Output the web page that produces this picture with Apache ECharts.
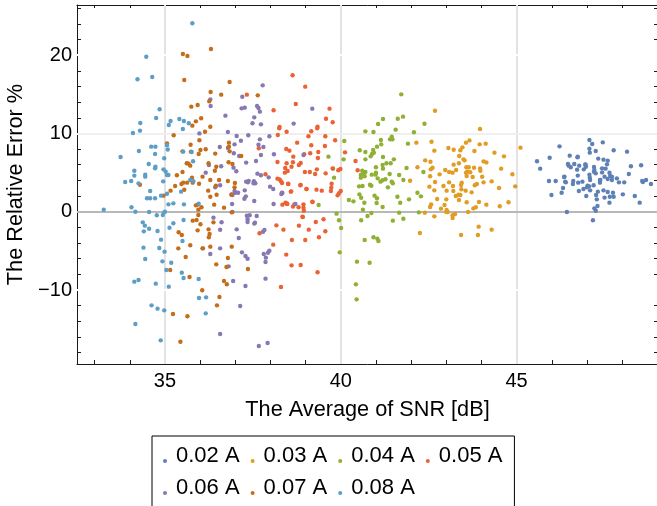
<!DOCTYPE html>
<html>
<head>
<meta charset="utf-8">
<script src="https://cdn.jsdelivr.net/npm/echarts@6/dist/echarts.min.js"></script>
<style>
  html, body { margin: 0; padding: 0; background: #ffffff; }
  #chart { width: 657px; height: 506px; }
</style>
</head>
<body>
<div id="chart"></div>
<script>
// Relative error (%) versus average SNR (dB), one point cloud per current level.
const currents = ['0.02 A', '0.03 A', '0.04 A', '0.05 A', '0.06 A', '0.07 A', '0.08 A'];

const pts002 = [[47.07,9.16],[47.45,8.86],[47.15,8.65],[46.22,8.35],[47.07,8.05],[47.25,7.76],[47.76,7.84],[48.14,7.67],[47.08,7.54],[46.51,7.16],[46.73,6.95],[45.94,6.90],[47.32,6.78],[47.47,6.65],[47.59,6.52],[45.58,6.44],[46.46,6.10],[46.64,6.10],[46.95,6.01],[46.48,5.88],[46.54,5.67],[46.78,5.88],[46.97,5.75],[47.20,5.71],[47.57,6.05],[48.25,5.80],[48.54,5.93],[45.67,5.50],[46.72,5.37],[46.91,5.41],[47.21,5.33],[47.43,5.54],[46.36,4.48],[46.74,4.61],[47.07,4.73],[47.08,4.35],[47.25,4.90],[47.50,4.48],[47.66,4.56],[47.71,4.48],[47.85,4.26],[48.19,4.82],[45.92,3.92],[46.11,3.92],[46.38,3.84],[46.60,3.54],[46.75,3.71],[46.87,3.84],[47.09,4.05],[47.37,4.05],[47.37,3.71],[47.59,4.18],[47.71,4.05],[47.91,3.75],[48.06,3.75],[48.57,3.92],[48.68,4.05],[48.82,3.54],[46.32,3.03],[46.77,2.65],[46.90,2.90],[47.00,3.12],[47.06,3.24],[47.19,3.37],[47.31,2.56],[47.47,2.73],[47.59,2.52],[47.74,2.43],[47.65,1.92],[47.76,1.92],[48.02,2.22],[48.36,2.01],[45.99,2.14],[46.28,2.43],[46.98,2.01],[47.26,2.14],[47.28,1.58],[47.50,1.80],[47.64,1.16],[48.50,1.16],[47.30,0.73],[47.21,0.43],[47.25,0.13],[46.43,-0.04],[47.17,-1.10],[48.59,3.79],[47.53,5.50],[47.20,5.11],[47.02,3.32],[46.74,7.03],[46.61,3.92],[46.35,4.43],[46.40,3.75],[47.43,5.02],[47.38,4.05],[47.64,4.98],[46.96,6.05],[47.09,2.73]];

const pts003 = [[42.68,12.90],[43.96,10.56],[42.15,8.82],[42.58,8.94],[43.66,9.11],[43.56,8.82],[43.95,8.60],[44.12,8.69],[43.46,8.22],[43.06,8.14],[43.21,7.92],[43.40,7.84],[42.66,7.80],[43.80,7.75],[44.37,7.54],[43.37,7.11],[44.64,7.07],[42.40,6.56],[42.55,6.39],[43.49,6.69],[43.52,6.56],[44.06,6.43],[44.14,6.30],[43.21,6.01],[43.36,6.18],[42.18,5.67],[42.56,5.41],[42.61,5.62],[42.97,5.33],[43.08,5.07],[43.18,4.99],[43.28,5.33],[43.57,5.67],[43.64,5.67],[43.79,5.62],[43.96,5.54],[43.97,5.24],[44.56,5.50],[42.81,4.77],[43.56,4.99],[43.60,5.11],[43.68,5.03],[43.58,4.56],[42.54,4.52],[43.75,4.43],[44.02,4.47],[41.97,3.96],[42.68,3.79],[43.08,3.75],[43.44,3.71],[43.87,3.54],[44.29,3.88],[42.52,3.20],[42.92,3.28],[43.19,3.28],[43.42,3.41],[43.81,3.37],[44.06,3.75],[42.66,2.73],[43.01,2.69],[43.20,2.64],[43.43,2.86],[43.55,2.69],[43.72,2.47],[44.50,3.03],[43.27,2.00],[43.35,2.17],[43.40,2.13],[42.74,1.62],[43.00,1.58],[43.36,1.49],[43.58,1.20],[43.93,1.24],[44.14,0.90],[44.52,0.69],[44.77,1.20],[42.57,0.94],[42.54,0.60],[42.95,0.86],[42.85,0.39],[43.01,0.22],[43.04,-0.04],[43.00,-0.04],[43.25,-0.29],[43.18,-0.46],[43.18,-0.80],[43.77,0.43],[43.84,0.56],[43.62,-0.04],[42.39,-0.12],[42.66,-0.59],[43.92,-1.91],[42.25,-2.72],[43.42,-2.98],[43.90,-2.98],[44.29,-2.29],[45.11,8.18],[44.96,3.24],[44.88,4.78]];

const pts004 = [[41.72,14.99],[41.20,11.84],[41.62,11.88],[41.77,12.14],[41.06,11.20],[42.38,11.24],[40.70,10.26],[40.93,10.18],[41.56,10.48],[42.08,10.14],[40.10,9.03],[41.45,9.58],[41.40,9.24],[41.47,9.24],[41.14,9.16],[41.91,8.69],[41.15,8.60],[41.03,8.31],[40.92,7.88],[40.54,7.84],[40.70,7.62],[40.89,7.37],[40.94,7.54],[41.20,6.99],[41.51,6.69],[40.08,6.69],[40.70,6.69],[40.85,7.07],[41.30,6.18],[41.42,6.18],[41.19,5.97],[41.20,5.50],[41.00,5.67],[39.78,5.50],[40.61,5.24],[40.70,5.07],[40.65,4.90],[41.00,4.99],[40.99,4.73],[41.39,4.82],[41.87,5.58],[42.35,5.07],[40.57,4.69],[40.57,4.35],[40.68,4.52],[40.88,4.73],[39.81,4.35],[41.66,4.69],[41.05,4.26],[41.13,3.84],[41.19,4.01],[41.27,4.14],[41.45,3.84],[41.48,3.63],[41.78,4.05],[40.62,3.28],[40.52,3.24],[40.83,3.45],[40.87,3.32],[41.34,3.11],[40.96,2.05],[40.53,2.22],[40.58,1.79],[41.03,1.71],[41.61,1.92],[42.18,2.43],[42.28,1.96],[41.94,1.58],[40.23,1.49],[40.36,1.32],[40.67,1.15],[41.02,1.11],[41.69,1.15],[41.19,0.60],[40.63,0.26],[40.87,-0.17],[40.76,-0.55],[41.66,-0.12],[42.22,-0.08],[39.88,-0.25],[41.78,-0.89],[39.95,-1.10],[40.58,-1.10],[41.48,-1.14],[40.01,-2.08],[40.68,-3.61],[40.93,-3.27],[41.04,-3.44],[41.07,-3.74],[39.97,-5.19],[40.46,-6.38],[40.82,-6.51],[40.43,-9.28],[40.45,-11.19],[39.65,7.03],[39.37,0.86]];

const pts005 = [[38.63,17.42],[38.99,15.97],[38.72,13.76],[37.33,14.95],[38.09,12.95],[39.68,13.16],[39.58,11.88],[38.26,10.82],[38.25,10.65],[38.46,10.22],[39.16,10.27],[39.34,10.86],[39.33,10.65],[39.56,9.63],[39.08,9.63],[38.21,9.80],[38.76,8.82],[37.67,8.10],[38.45,8.01],[38.54,7.80],[39.16,8.48],[39.36,7.63],[39.13,7.46],[38.96,7.33],[38.65,7.03],[39.35,6.86],[38.46,6.18],[38.64,6.31],[38.20,6.35],[38.86,6.22],[38.81,5.97],[38.60,5.75],[38.42,5.58],[38.49,5.20],[38.41,4.99],[38.98,5.07],[39.12,5.07],[39.32,5.41],[39.57,4.90],[39.27,4.82],[37.86,4.78],[38.20,4.22],[38.26,4.13],[38.33,3.66],[38.50,3.58],[38.86,3.41],[39.02,2.90],[39.31,2.82],[39.46,2.69],[38.59,2.60],[38.33,2.43],[38.43,1.16],[38.48,1.03],[38.68,0.94],[38.64,0.65],[38.94,0.94],[38.94,0.52],[39.19,1.28],[38.34,0.90],[38.95,0.13],[38.91,-0.63],[38.81,-1.78],[39.29,-1.31],[39.51,-0.97],[39.09,-2.29],[39.56,-2.50],[39.38,-3.27],[38.37,-2.29],[38.17,-1.74],[37.69,-2.76],[38.61,-3.61],[38.99,-3.61],[38.08,-4.21],[38.45,-5.48],[38.60,-6.85],[38.86,-6.81],[38.30,-9.61],[39.34,-7.74],[39.77,11.42],[39.84,9.12],[40.12,7.58],[39.99,5.46],[39.93,5.29],[40.42,6.48],[40.48,5.29],[39.74,3.58],[39.73,3.07],[39.72,2.64],[39.91,2.09],[40.00,2.64],[39.95,2.35],[39.55,8.39],[39.77,5.54],[38.47,0.98],[38.80,0.56],[39.20,1.24],[38.92,-0.68],[39.03,2.90],[38.85,3.37],[38.58,2.56],[38.51,3.54],[38.30,3.88]];

const pts006 = [[37.78,16.14],[37.20,14.69],[36.29,14.35],[36.30,13.50],[37.18,13.20],[37.27,13.29],[37.62,13.50],[37.66,13.25],[37.70,12.78],[39.19,13.16],[37.54,12.05],[36.72,12.27],[37.49,11.29],[37.73,11.16],[38.66,11.25],[35.98,10.00],[36.79,10.18],[37.37,9.76],[37.70,9.24],[37.97,9.63],[37.04,9.67],[37.16,9.07],[37.66,8.56],[36.98,8.60],[36.79,8.14],[36.56,8.27],[37.80,8.27],[36.96,7.46],[37.11,7.12],[37.73,7.24],[38.10,7.33],[37.31,6.27],[37.59,6.48],[36.25,5.97],[36.60,5.80],[36.95,5.63],[37.03,5.16],[36.16,4.99],[37.63,4.86],[37.73,4.65],[37.95,4.39],[37.31,3.84],[37.36,3.75],[37.52,3.63],[37.57,3.63],[36.57,3.37],[36.43,3.12],[37.99,3.20],[38.08,2.90],[36.98,2.65],[37.00,2.43],[37.08,2.43],[37.27,2.73],[36.92,2.13],[36.90,2.22],[37.30,1.96],[38.34,2.39],[38.31,2.26],[37.26,1.66],[37.54,1.37],[36.91,0.99],[38.09,0.99],[36.92,-0.04],[37.33,-0.51],[37.35,-0.97],[37.35,-1.31],[37.41,-0.46],[37.61,-0.55],[36.61,-1.35],[37.04,-2.25],[37.56,-1.40],[37.83,-2.33],[37.79,-2.55],[37.10,-3.36],[36.08,-4.68],[36.57,-4.68],[36.29,-5.41],[37.19,-5.19],[37.29,-5.66],[37.97,-4.98],[37.93,-5.24],[37.81,-5.41],[37.86,-6.42],[37.29,-9.49],[37.86,-8.55],[36.94,-8.85],[37.35,-6.00],[37.14,-12.04],[36.57,-15.62],[37.67,-17.15],[37.92,-16.77],[36.81,-6.98],[36.38,-0.76],[36.57,-2.30],[37.54,-1.52],[37.87,-5.87],[37.38,3.94],[37.53,3.90],[38.94,7.24],[38.71,0.98]];

const pts007 = [[35.51,20.14],[35.64,19.89],[36.31,20.78],[35.55,16.82],[36.84,16.57],[36.30,15.29],[36.60,14.95],[36.26,14.10],[37.64,14.86],[35.93,13.63],[35.75,13.42],[36.03,11.93],[35.88,11.54],[35.78,10.99],[36.29,10.86],[36.14,10.22],[35.25,9.76],[35.06,8.73],[35.73,8.56],[36.82,8.82],[36.82,8.31],[36.84,7.71],[36.43,7.42],[36.01,7.88],[35.74,7.67],[35.50,7.71],[35.62,6.18],[35.67,6.14],[35.72,5.88],[35.96,7.37],[36.16,7.97],[36.24,6.18],[36.46,5.75],[36.81,6.31],[37.17,7.12],[35.34,4.65],[35.50,5.07],[35.63,3.71],[35.77,4.35],[36.07,4.48],[36.29,4.05],[36.42,5.24],[36.54,4.05],[36.79,3.92],[35.52,3.71],[35.98,9.12],[36.92,6.10],[34.29,3.45],[35.29,3.28],[35.16,2.69],[34.96,2.05],[35.47,3.54],[35.55,2.81],[35.79,3.71],[35.97,3.58],[36.45,3.33],[36.23,2.69],[36.29,1.92],[36.47,2.17],[36.89,2.17],[36.98,3.11],[36.99,3.67],[35.88,0.81],[35.93,0.90],[35.95,0.26],[36.04,0.56],[36.40,0.90],[36.68,0.52],[36.90,-0.08],[35.95,-0.42],[35.79,-1.14],[35.90,-1.06],[36.01,-1.61],[36.38,-1.36],[36.24,-2.25],[35.93,-2.38],[35.39,-2.63],[35.48,-2.97],[36.27,-2.85],[36.25,-3.27],[35.72,-4.29],[35.38,-4.68],[36.07,-4.68],[36.29,-4.46],[36.90,-4.46],[35.59,-5.78],[36.79,-5.91],[36.46,-6.72],[36.75,-7.06],[37.36,-7.32],[35.15,-7.44],[35.70,-8.34],[36.68,-8.85],[36.76,-9.27],[36.06,-10.04],[36.55,-10.89],[36.48,-11.96],[35.23,-13.06],[35.64,-13.36],[35.44,-16.60]];

const pts008 = [[35.78,24.06],[34.47,19.80],[34.22,16.91],[34.64,17.21],[34.85,13.08],[34.75,11.97],[34.30,11.33],[34.29,10.35],[34.09,10.05],[35.11,11.08],[35.16,11.59],[35.41,11.84],[35.54,11.59],[35.68,11.29],[35.51,10.56],[34.61,8.31],[34.73,8.31],[34.26,7.76],[34.72,7.37],[33.74,6.99],[35.06,8.50],[35.08,7.95],[35.52,7.67],[35.76,7.63],[34.54,6.10],[34.73,5.75],[34.72,5.54],[34.98,6.82],[34.96,5.41],[35.02,5.12],[35.06,4.69],[35.10,4.69],[34.44,4.48],[34.44,4.73],[34.13,5.24],[34.13,4.61],[35.80,6.44],[35.72,4.05],[35.81,3.90],[33.87,3.79],[34.04,3.92],[34.25,3.62],[34.95,3.88],[34.58,2.64],[34.49,1.71],[34.58,1.71],[34.72,1.71],[34.89,2.05],[35.06,2.30],[35.46,2.56],[35.10,0.94],[35.24,1.07],[35.54,0.94],[35.96,1.03],[34.05,0.56],[33.26,0.26],[34.16,0.00],[34.55,-0.04],[34.98,-0.08],[35.00,0.00],[34.94,-0.42],[34.77,-0.46],[34.37,-1.36],[34.43,-1.78],[34.55,-2.17],[34.40,-2.51],[34.79,-2.46],[35.13,-2.04],[35.24,-1.48],[35.53,-1.06],[34.89,-3.57],[35.50,-3.74],[34.39,-4.59],[34.84,-4.63],[34.99,-5.10],[34.44,-6.04],[34.93,-6.34],[35.18,-6.51],[35.04,-7.44],[35.48,-7.78],[35.53,-8.47],[35.96,-8.59],[34.13,-8.93],[34.25,-8.72],[34.74,-9.19],[35.11,-9.57],[35.97,-11.02],[36.17,-10.94],[34.62,-11.96],[34.79,-12.38],[34.98,-12.60],[36.16,-12.98],[34.16,-14.34],[34.88,-16.43]];

const seriesPoints = [pts002, pts003, pts004, pts005, pts006, pts007, pts008];
const palette = ['#5e81b5', '#e19c24', '#8fb032', '#eb6235', '#8778b3', '#c56e1a', '#5d9ec7'];

// axis ranges, ticks and labels
const xRange = [32.5, 49.02];
const yRange = [-19.45, 26.4];
const xTickValues = [33, 34, 35, 36, 37, 38, 39, 40, 41, 42, 43, 44, 45, 46, 47, 48];
const xLabelValues = [35, 40, 45];
const yTickValues = [-18, -16, -14, -12, -10, -8, -6, -4, -2, 0, 2, 4, 6, 8, 10, 12, 14, 16, 18, 20, 22, 24, 26];
const yLabelValues = [-10, 0, 10, 20];
const xGridValues = [35, 40, 45];
const yGridLight = [10];
const yGridWhite = [20, -10];

const FONT = '"Liberation Sans", Arial, Helvetica, sans-serif';
const frame = { show: true, onZero: false, lineStyle: { color: '#1a1a1a', width: 1 } };

function frameAxis(extra) {
  return Object.assign({
    type: 'value',
    axisLine: frame,
    splitLine: { show: false },
    splitArea: { show: false }
  }, extra);
}

const legendFont = { fontSize: 22, color: '#000', fontFamily: FONT };
const legendRich = Object.assign({ lineHeight: 22, padding: [0, 11, 10, 0] }, legendFont);

const chart = echarts.init(document.getElementById('chart'), null, { renderer: 'canvas' });

const gridLines = []
  .concat(xGridValues.map(v => ({ xAxis: v, lineStyle: { color: '#e3e3e3', width: 2 } })))
  .concat(yGridLight.map(v => ({ yAxis: v, lineStyle: { color: '#efefef', width: 2 } })))
  .concat(yGridWhite.map(v => ({ yAxis: v, lineStyle: { color: '#ffffff', width: 2 } })))
  .concat([{ yAxis: 0, lineStyle: { color: '#b8b8b8', width: 2 } }]);

chart.setOption({
  animation: false,
  backgroundColor: '#ffffff',
  grid: { left: 77, top: 5, width: 581, height: 359, containLabel: false, outerBoundsMode: 'none' },
  xAxis: [
    frameAxis({
      position: 'bottom', min: xRange[0], max: xRange[1],
      axisTick: { show: true, inside: true, length: 4, customValues: xTickValues, lineStyle: { color: '#1a1a1a' } },
      axisLabel: { show: true, customValues: xLabelValues, fontSize: 20, color: '#000', margin: 7, fontFamily: FONT },
      name: 'The Average of SNR [dB]', nameLocation: 'middle', nameGap: 35,
      nameTextStyle: { fontSize: 21.7, color: '#000', fontFamily: FONT }
    }),
    frameAxis({
      position: 'top', min: xRange[0], max: xRange[1],
      axisTick: { show: true, inside: true, length: 3, customValues: xTickValues, lineStyle: { color: '#1a1a1a' } },
      axisLabel: { show: false }
    })
  ],
  yAxis: [
    frameAxis({
      position: 'left', min: yRange[0], max: yRange[1],
      axisTick: { show: true, inside: true, length: 4, customValues: yTickValues, lineStyle: { color: '#1a1a1a' } },
      axisLabel: {
        show: true, customValues: yLabelValues, fontSize: 20, color: '#000', margin: 5, fontFamily: FONT,
        formatter: v => (v < 0 ? '\u2212' + Math.abs(v) : String(v))
      },
      name: 'The Relative Error %', nameLocation: 'middle', nameGap: 35, nameRotate: 90,
      nameTextStyle: { fontSize: 21.7, color: '#000', fontFamily: FONT }
    }),
    frameAxis({
      position: 'right', min: yRange[0], max: yRange[1],
      axisTick: { show: true, inside: true, length: 4, customValues: yTickValues, lineStyle: { color: '#1a1a1a' } },
      axisLabel: { show: false }
    })
  ],
  legend: {
    data: currents,
    left: 152, top: 436, width: 352,
    orient: 'horizontal', align: 'left',
    icon: 'circle', itemWidth: 12, itemHeight: 4, itemGap: 0,
    selectedMode: false,
    padding: [9, 1, 16, 11],
    borderColor: '#000', borderWidth: 1, backgroundColor: '#fff',
    formatter: '{t|{name}}',
    textStyle: Object.assign({ rich: { t: legendRich } }, legendFont)
  },
  series: [
    {
      type: 'scatter', name: 'grid', data: [], z: 1, silent: true,
      xAxisIndex: 0, yAxisIndex: 0,
      markLine: {
        z: 1, silent: true, symbol: ['none', 'none'], label: { show: false },
        lineStyle: { type: 'solid' }, emphasis: { disabled: true },
        animation: false, data: gridLines
      }
    }
  ].concat(seriesPoints.map((pts, i) => ({
    type: 'scatter', name: currents[i], data: pts,
    xAxisIndex: 0, yAxisIndex: 0, z: 2,
    symbol: 'circle', symbolSize: 4.4,
    itemStyle: { color: palette[i], opacity: 1 },
    emphasis: { disabled: true }, silent: true
  })))
});
</script>
</body>
</html>
